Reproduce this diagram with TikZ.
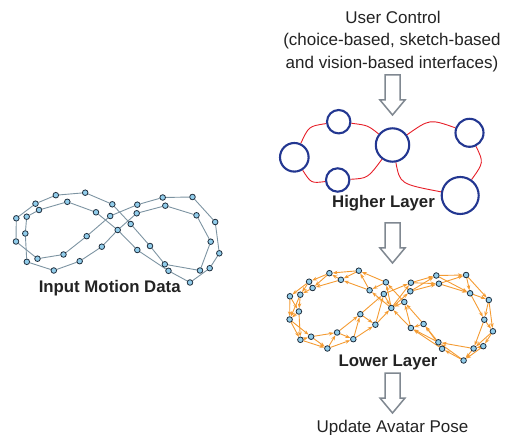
\documentclass[tikz,border=0pt]{standalone}
\usepackage{fontspec}
\setmainfont{Liberation Sans}
\usetikzlibrary{arrows.meta}
\pgfdeclarelayer{bg}
\pgfsetlayers{bg,main}
\definecolor{ptfill}{RGB}{145,205,235}
\definecolor{ptdraw}{RGB}{30,45,60}
\definecolor{trajgray}{RGB}{125,148,162}
\definecolor{orangeA}{RGB}{244,155,50}
\definecolor{hlred}{RGB}{230,30,40}
\definecolor{hlblue}{RGB}{35,55,145}
\definecolor{arrgray}{RGB}{128,136,145}
\definecolor{txt}{RGB}{35,35,35}
\begin{document}
\begin{tikzpicture}[x=1pt,y=-1pt,
  pt/.style={circle,draw=ptdraw,fill=ptfill,line width=0.8pt,inner sep=0pt,minimum size=5.6pt},
  trj/.style={draw=trajgray,line width=0.9pt},
  mg/.style={draw=orangeA,line width=0.9pt,-{Stealth[length=5pt,width=3.6pt]}},
  state/.style={circle,draw=hlblue,line width=2.1pt,fill=white,inner sep=0pt},
  lnk/.style={draw=hlred,line width=0.9pt},
  lbl/.style={font=\fontsize{17}{21}\selectfont,anchor=base,text=txt,inner sep=0pt},
  blbl/.style={font=\fontsize{16.8}{20}\selectfont\bfseries,anchor=base,text=txt,inner sep=0pt},
  bigarrow/.style={draw=arrgray,line width=1.5pt,fill=white,line join=miter},
  downarr/.pic={\draw[bigarrow] (-7.5,0) -- (7.5,0) -- (7.5,25) -- (12.5,25) -- (0,40) -- (-12.5,25) -- (-7.5,25) -- cycle;}
]
\useasboundingbox (0,0) rectangle (508,435);

% ---------- motion points ----------
\foreach \n/\px/\py in {A/16.3/218.3, B/26.7/216.7, C/35.5/203.7, D/55.8/195.2, E/85.2/192.7,
  F/112.3/204.3, G/39/210, H/67.3/201.8, I/96/212.3, J/25.3/233.5, K/16/241.5, L/26.8/261.8,
  M/37.5/258.7, N/53.8/270.5, O/63.5/254.5, P/79.7/261.2, Q/86.7/236.2, R/101.8/246.7,
  S/110.2/216, T/117.7/230, U/130.7/224, V/137.3/204.7, W/136.7/213.3, X/162.7/197.5,
  Y/165.3/205.7, Z/192.5/197, AA/196.5/215.3, AB/215.2/222, AC/210.7/241.7, AD/219.3/253.3,
  AE/209.7/268.2, AF/200/270.5, AG/190/282.5, AH/168.5/270.8, AI/164.8/264.3, AJ/150/246,
  AK/137.3/250}{
  \node[pt] (m\n) at (\px,\py) {};
  \node[pt] (l\n) at (\px+273.6,\py+78) {};
}

\begin{pgfonlayer}{bg}
% input motion data trajectories
\foreach \a/\b in {C/A, A/K, K/M, M/O, O/Q, Q/S, S/V, V/X, X/Z, Z/AB, AB/AD, AD/AE, AE/AG,
  AG/AH, AH/AK, AK/T, T/I, I/H, H/G, G/B, B/J, J/L, L/N, N/P, P/R, R/T, T/W, W/Y, Y/AA,
  AA/AC, AC/AF, AF/AI, AI/AJ, AJ/U, U/F, F/E, E/D, D/C}{
  \draw[trj] (m\a) -- (m\b);
}
% lower layer motion graph
\foreach \a/\b in {F/E, E/D, D/C, C/A, A/K, K/M, M/O, O/Q, Q/S, S/V, V/X, X/Z, Z/AB, AB/AD,
  AD/AE, AE/AG, AG/AH, AH/AK, AK/T, T/I, I/H, H/G, G/B, B/J, J/L, L/N, N/P, P/R, R/T, T/W,
  W/Y, Y/AA, AA/AC, AC/AF, AF/AI, AI/AJ, AJ/U, U/F,
  F/I, E/H, D/G, C/B, I/E, H/D, G/C, A/J, B/K, K/L, J/K, M/N, L/M, N/O, O/P, P/Q, Q/R, R/S,
  S/T, T/V, V/Y, W/X, X/AA, Y/Z, Z/AA, AA/AB, AB/AC, AC/AD, AD/AF, AE/AF, AF/AG, AG/AI,
  AH/AJ, AI/AK, AJ/AK, AK/U, U/T, T/F}{
  \draw[mg] (l\a) -- (l\b);
}
\end{pgfonlayer}

% ---------- higher layer ----------
\node[state,minimum size=28.6pt] (c1) at (294.3,157.3) {};
\node[state,minimum size=23.4pt] (c2) at (338.7,121.7) {};
\node[state,minimum size=23.4pt] (c3) at (337.7,180) {};
\node[state,minimum size=33.4pt] (c4) at (392.5,145) {};
\node[state,minimum size=28pt] (c5) at (469.5,132.8) {};
\node[state,minimum size=37pt] (c6) at (460.2,195.5) {};
\begin{pgfonlayer}{bg}
\draw[lnk] (c1) .. controls (308.8,126.2) .. (c2);
\draw[lnk] (c1) .. controls (311.1,183.3) .. (c3);
\draw[lnk] (c2) .. controls (367.8,125.3) .. (c4);
\draw[lnk] (c3) .. controls (367.8,178.3) .. (c4);
\draw[lnk] (c4) .. controls (429.7,118.8) .. (c5);
\draw[lnk] (c5) .. controls (483.8,162.5) .. (c6);
\draw[lnk] (c4) .. controls (400,184) .. (c6);
\end{pgfonlayer}

% ---------- big arrows ----------
\pic at (392.5,75) {downarr};
\pic at (392.5,223) {downarr};
\pic at (392.5,373) {downarr};

% ---------- labels ----------
\node[lbl] (uc1) at (393,23.5) {User Control};
\node[lbl] (uc2) at (392,46) {(choice-based, sketch-based};
\node[lbl] (uc3) at (392,68.5) {and vision-based interfaces)};
\node[blbl] (hl) at (383.5,207.5) {Higher Layer};
\node[blbl] (ll) at (388,366) {Lower Layer};
\node[lbl] (up) at (392.5,432) {Update Avatar Pose};
\node[blbl] (im) at (109.7,292.5) {Input Motion Data};
\end{tikzpicture}
\end{document}
